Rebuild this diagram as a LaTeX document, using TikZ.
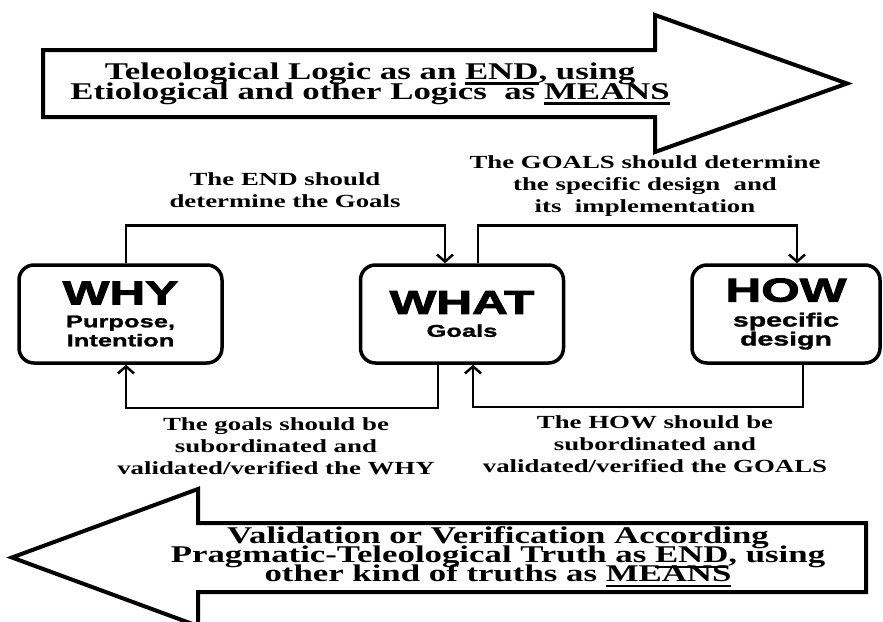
\documentclass[tikz,border=0pt]{standalone}
\usepackage{fontspec}
\usetikzlibrary{arrows.meta}
\newfontfamily\labelfont[FakeStretch=1.45]{Liberation Serif}
\newfontfamily\keyfont[FakeStretch=1.5,BoldFeatures={FakeBold=3}]{Liberation Sans}
\newfontfamily\subfont[FakeStretch=1.5,BoldFeatures={FakeBold=1.5}]{Liberation Sans}
\newcommand{\keyword}{\keyfont\bfseries\fontsize{33}{33}\selectfont}
\newcommand{\tightlines}{\lineskiplimit=-20pt\relax}
\newsavebox\ulbox
\newcommand{\undl}[1]{\sbox\ulbox{#1}\rlap{\vrule height -3pt depth 5.5pt width \wd\ulbox}\usebox\ulbox}
\tikzset{
  bigarrow/.style={line width=4, black, line join=miter},
  stage/.style={draw, line width=3.5, rounded corners=15, minimum width=203, minimum height=98, align=center, inner sep=0,
    font=\subfont\bfseries\fontsize{17}{19}\selectfont},
  link/.style={line width=2.5, -{Straight Barb[length=7pt,width=16pt]}},
  note/.style={align=center, font=\labelfont\bfseries\fontsize{18.5}{22}\selectfont},
  arrowtext/.style={align=center, font=\labelfont\bfseries\fontsize{24}{20}\selectfont\tightlines}
}
\begin{document}
\begin{tikzpicture}[x=1pt,y=-1pt]
   \useasboundingbox (0,0) rectangle (883,621);
   \clip (0,0) rectangle (883,621);
   % big arrow to the right
   \draw [bigarrow] (43,50) -- (655,50) -- (655,15) -- (847,83.5) -- (655,152) -- (655,117) -- (43,117) -- cycle;
   \node [arrowtext] (logic) at (370,83.5) {Teleological Logic as an \undl{END}, using\\Etiological and other Logics\ \ as \undl{MEANS}};
   % the three boxes
   \node [stage] (why) at (120.5,314) {{\keyword WHY}\\[4pt]Purpose,\\Intention};
   \node [stage] (what) at (462,314) {{\keyword WHAT}\\[4pt]Goals};
   \node [stage, minimum width=188] (how) at (786,314) {{\keyword HOW}\\[6pt]{\fontsize{19}{18}\selectfont specific}\\{\fontsize{19}{18}\selectfont design}};
   % arrows on top
   \draw [link] ([xshift=5.5]why.north) -- ++(0,-38) -| ([xshift=-17]what.north);
   \draw [link] ([xshift=16]what.north) -- ++(0,-38) -| ([xshift=11]how.north);
   \node [note] (endnote) at (285,190) {The END should\\determine the Goals};
   \node [note] (goalnote) at (645,186) {The GOALS should determine\\the specific design\ \ and\\its\ \ implementation};
   % arrows below
   \draw [link] ([xshift=-24]what.south) -- ++(0,43) -| ([xshift=5.5]why.south);
   \draw [link] ([xshift=17]how.south) -- ++(0,42) -| ([xshift=11]what.south);
   \node [note] (whynote) at (276,446) {The goals should be\\subordinated and\\validated/verified the WHY};
   \node [note] (hownote) at (655,444) {The HOW should be\\subordinated and\\validated/verified the GOALS};
   % big arrow to the left
   \draw [bigarrow] (866,523) -- (198,523) -- (198,489) -- (12,557.5) -- (198,626) -- (198,592) -- (866,592) -- cycle;
   \node [arrowtext, font=\labelfont\bfseries\fontsize{24}{19}\selectfont\tightlines] (truth) at (498,557) {Validation or Verification According\\Pragmatic-Teleological Truth as \undl{END}, using\\other kind of truths as \undl{MEANS}};
\end{tikzpicture}
\end{document}
